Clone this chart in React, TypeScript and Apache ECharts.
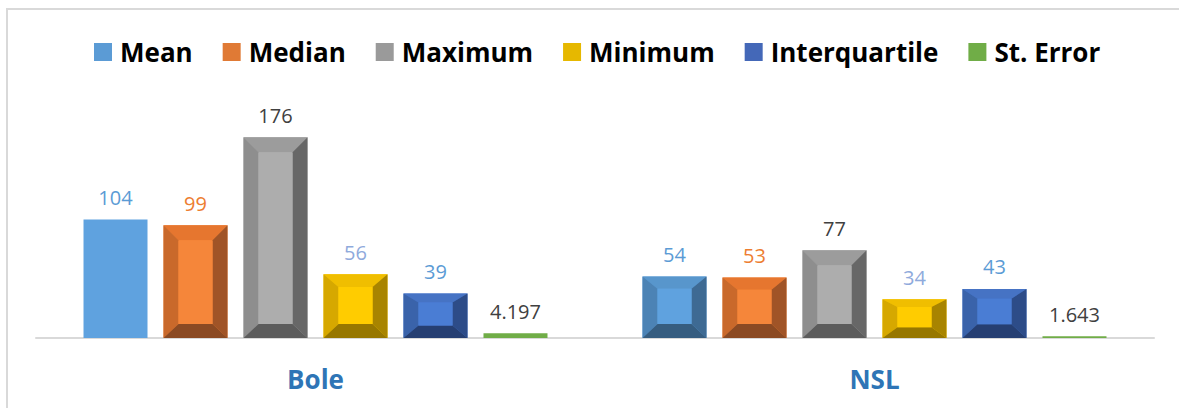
import React, { useEffect, useRef } from "react";
import * as echarts from "echarts";

const categories = ["Bole", "NSL"];
const seriesNames = ["Mean", "Median", "Maximum", "Minimum", "Interquartile", "St. Error"];
const meanValues = [104, 54];
const medianValues = [99, 53];
const maximumValues = [176, 77];
const minimumValues = [56, 34];
const interquartileValues = [39, 43];
const stErrorValues = [4.197, 1.643];
const bevelFlags = [
  [false, true],
  [true, true],
  [true, true],
  [true, true],
  [true, true],
  [false, false],
];

const allValues = [meanValues, medianValues, maximumValues, minimumValues, interquartileValues, stErrorValues];

// face colours: center, top, left, right, bottom
const faceColors = [
  ["#5FA2DF", "#5896CC", "#4C83B5", "#3E6A93", "#365D80"],
  ["#F5863A", "#E6762F", "#C9692B", "#A05427", "#8B4A23"],
  ["#ADADAD", "#9C9C9C", "#8E8E8E", "#676767", "#5C5C5C"],
  ["#FFCC00", "#F0BE00", "#D6A800", "#A88400", "#977700"],
  ["#4A7DD4", "#4673C4", "#3A63AA", "#2D4C88", "#263F72"],
  ["#70AD47", "#70AD47", "#70AD47", "#70AD47", "#70AD47"],
];
const legendColors = ["#5B9BD5", "#E07A35", "#9A9A9A", "#E6B800", "#4468B8", "#70AD47"];
const labelColors = ["#5B9BD5", "#ED7D31", "#404040", "#8FAADC", "#5B9BD5", "#404040"];

const CAT_GAP = 0.17;
const BAR_GAP = 0.25;

export default function App() {
  const ref = useRef<HTMLDivElement>(null);
  useEffect(() => {
    if (!ref.current) return;
    const chart = echarts.init(ref.current, null, { renderer: "svg" });

    const barSeries = seriesNames.map((name, j) => ({
      name,
      type: "bar",
      data: allValues[j],
      barGap: BAR_GAP * 100 + "%",
      barCategoryGap: CAT_GAP * 100 + "%",
      itemStyle: { color: faceColors[j][0] },
      label: {
        show: true,
        position: "top",
        distance: 12,
        color: labelColors[j],
        fontSize: 20,
        fontFamily: "Open Sans",
      },
      z: 2,
    }));

    const bevelData: number[][] = [];
    allValues.forEach((vals, j) => {
      vals.forEach((v, i) => {
        if (bevelFlags[j][i]) bevelData.push([i, v, j]);
      });
    });

    const bevelSeries = {
      name: "bevel",
      type: "custom",
      data: bevelData,
      z: 3,
      silent: true,
      renderItem: (params: any, api: any) => {
        const cat = api.value(0);
        const val = api.value(1);
        const j = api.value(2);
        const bw = api.size([1, 0])[0];
        const usable = bw * (1 - CAT_GAP);
        const barW = usable / (6 + 5 * BAR_GAP);
        const center = api.coord([cat, 0])[0];
        const x0 = center - usable / 2 + j * barW * (1 + BAR_GAP);
        const x1 = x0 + barW;
        const top = api.coord([cat, val])[1];
        const base = api.coord([cat, 0])[1];
        const h = base - top;
        const bx = Math.min(15, barW * 0.24);
        const bt = Math.min(15, h * 0.2);
        const bb = Math.min(14, h * 0.28);
        const c = faceColors[j];
        const TL = [x0, top], TR = [x1, top], BR = [x1, base], BL = [x0, base];
        const iTL = [x0 + bx, top + bt], iTR = [x1 - bx, top + bt];
        const iBR = [x1 - bx, base - bb], iBL = [x0 + bx, base - bb];
        return {
          type: "group",
          children: [
            { type: "polygon", shape: { points: [TL, TR, iTR, iTL] }, style: { fill: c[1] } },
            { type: "polygon", shape: { points: [TL, iTL, iBL, BL] }, style: { fill: c[2] } },
            { type: "polygon", shape: { points: [TR, BR, iBR, iTR] }, style: { fill: c[3] } },
            { type: "polygon", shape: { points: [BL, iBL, iBR, BR] }, style: { fill: c[4] } },
            {
              type: "rect",
              shape: { x: iTL[0], y: iTL[1], width: iTR[0] - iTL[0], height: iBL[1] - iTL[1] },
              style: { fill: c[0] },
            },
          ],
        };
      },
    };

    chart.setOption({
      animation: false,
      backgroundColor: "#FFFFFF",
      graphic: [
        {
          type: "rect",
          shape: { x: 7, y: 9, width: 1300, height: 600 },
          style: { fill: "none", stroke: "#D9D9D9", lineWidth: 2 },
          silent: true,
        },
      ],
      legend: {
        data: seriesNames.map((n, j) => ({ name: n, itemStyle: { color: legendColors[j] } })),
        top: 34,
        left: 89,
        icon: "rect",
        itemWidth: 18,
        itemHeight: 18,
        itemGap: 30,
        textStyle: {
          fontSize: 26,
          fontWeight: "bold",
          fontFamily: "Open Sans",
          color: "#000000",
          padding: [0, 0, 0, 3],
        },
      },
      grid: { left: 36, right: 25, top: 110, bottom: 70 },
      xAxis: {
        type: "category",
        data: categories,
        axisLine: { lineStyle: { color: "#D9D9D9", width: 2 } },
        axisTick: { show: false },
        axisLabel: {
          fontSize: 26,
          fontWeight: "bold",
          fontFamily: "Open Sans",
          color: "#2E75B6",
          margin: 28,
        },
      },
      yAxis: {
        type: "value",
        min: 0,
        max: 200,
        show: false,
        splitLine: { show: false },
      },
      series: [...barSeries, bevelSeries],
    });
    return () => chart.dispose();
  }, []);
  return (
    <div
      ref={ref}
      style={{ position: "fixed", left: 0, top: 0, width: 1179, height: 408, background: "#fff" }}
    />
  );
}
